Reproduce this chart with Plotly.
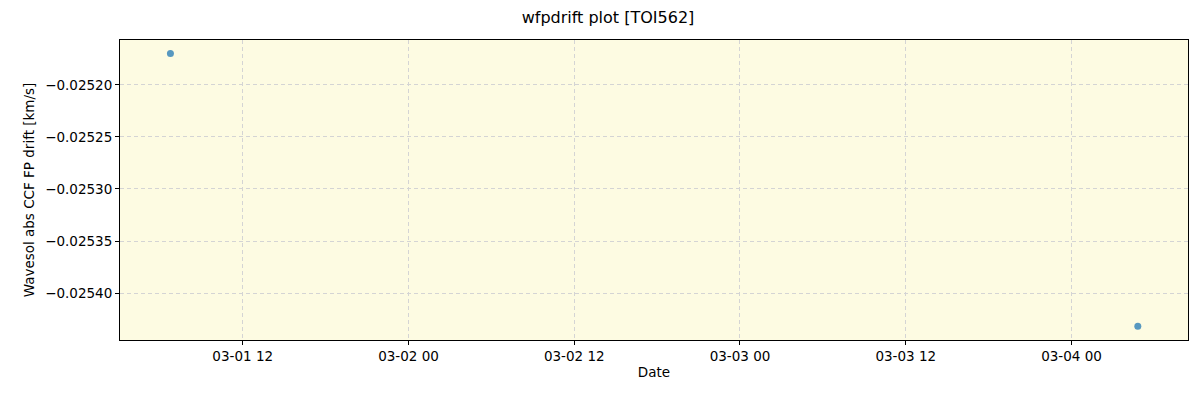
import plotly.graph_objects as go

dates = ["2024-03-01 06:46:00", "2024-03-04 04:48:00"]
drift = [-0.025170, -0.0254317]
x_ticks = ["2024-03-01 12:00", "2024-03-02 00:00", "2024-03-02 12:00", "2024-03-03 00:00", "2024-03-03 12:00", "2024-03-04 00:00"]
x_tick_labels = ["03-01 12", "03-02 00", "03-02 12", "03-03 00", "03-03 12", "03-04 00"]
y_ticks = [-0.02520, -0.02525, -0.02530, -0.02535, -0.02540]
y_tick_labels = ["\u22120.02520", "\u22120.02525", "\u22120.02530", "\u22120.02535", "\u22120.02540"]

fig = go.Figure()
fig.add_trace(go.Scatter(
    x=dates, y=drift, mode="markers",
    marker=dict(color="#1f77b4", size=7, opacity=0.75, line=dict(width=0)),
    showlegend=False,
))

font = dict(family="DejaVu Sans", size=13.5, color="black")
fig.update_layout(
    width=1200, height=400,
    margin=dict(l=112, r=20, t=32, b=68),
    paper_bgcolor="white",
    plot_bgcolor="#fdfbe2",
    font=font,
    title=dict(text="wfpdrift plot [TOI562]", x=0.5, xanchor="center", y=0.99, yanchor="top",
               font=dict(family="DejaVu Sans", size=16, color="black")),
)
fig.update_xaxes(
    range=["2024-03-01 03:07", "2024-03-04 08:26"],
    tickvals=x_ticks, ticktext=x_tick_labels,
    showgrid=True, gridcolor="#d4d4d4", griddash="4px,3px", gridwidth=1,
    showline=True, linecolor="black", linewidth=1, mirror=True,
    ticks="outside", ticklen=4, tickcolor="black",
    title=dict(text="Date", font=font, standoff=4),
    zeroline=False,
)
fig.update_yaxes(
    range=[-0.025445, -0.025157],
    tickvals=y_ticks, ticktext=y_tick_labels,
    showgrid=True, gridcolor="#d4d4d4", griddash="4px,3px", gridwidth=1,
    showline=True, linecolor="black", linewidth=1, mirror=True,
    ticks="outside", ticklen=4, tickcolor="black",
    title=dict(text="Wavesol abs CCF FP drift [km/s]", font=font, standoff=7),
    zeroline=False,
)
fig.write_html("out.html")
